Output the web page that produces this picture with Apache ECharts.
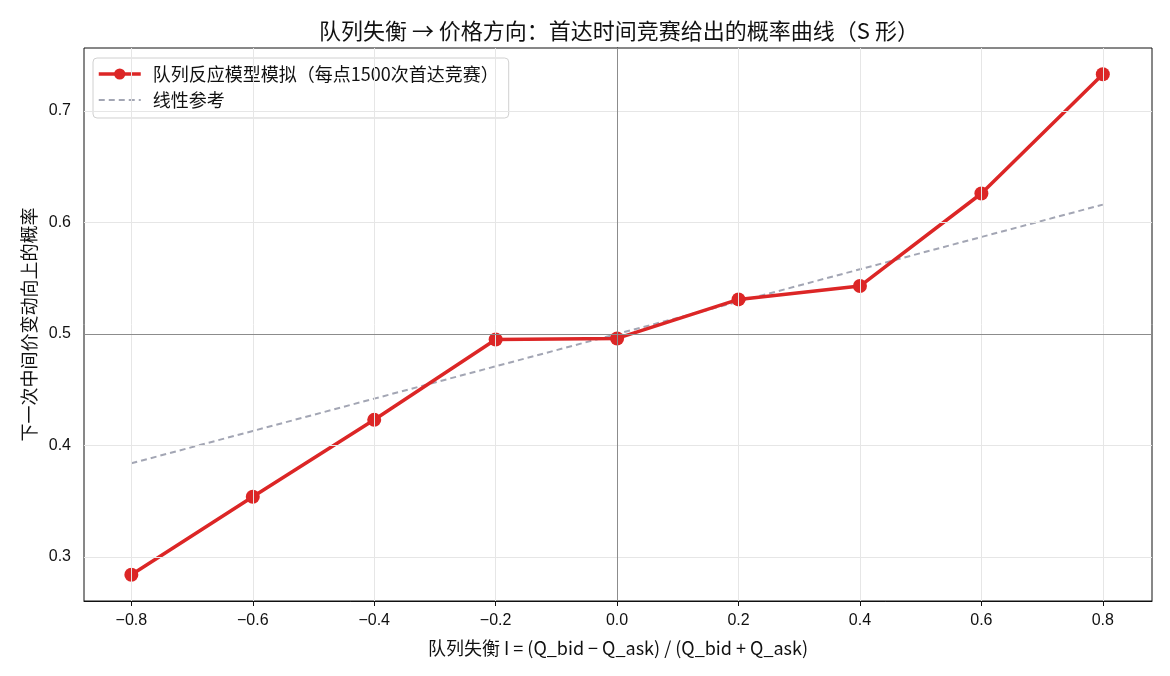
<!DOCTYPE html>
<html lang="zh">
<head>
    <meta charset="UTF-8">
    <title>队列失衡 → 价格方向</title>
    <script src="https://cdn.jsdelivr.net/npm/echarts@6.0.0/dist/echarts.min.js"></script>
</head>
<body style="margin:0">
<div id="chart" style="height: 676px; width: 1170px;"></div>
<script>
    // 队列失衡 I 的取值
    const imbalance = [-0.8, -0.6, -0.4, -0.2, 0.0, 0.2, 0.4, 0.6, 0.8];
    // 模拟得到的上涨概率
    const probSim = [0.284, 0.354, 0.423, 0.495, 0.496, 0.531, 0.543, 0.626, 0.733];
    // 线性参考
    const probLinear = [0.384, 0.413, 0.442, 0.471, 0.500, 0.529, 0.558, 0.587, 0.616];
    const xTicks = [-0.8, -0.6, -0.4, -0.2, 0.0, 0.2, 0.4, 0.6, 0.8];
    const yTicks = [0.3, 0.4, 0.5, 0.6, 0.7];

    const font = '"Noto Sans CJK SC", "Noto Sans", sans-serif';
    const tickFont = '"Liberation Sans", sans-serif';
    const chart = echarts.init(document.querySelector('#chart'));

    chart.setOption({
        animation: false,
        textStyle: { fontFamily: font },
        title: {
            text: '队列失衡 → 价格方向：首达时间竞赛给出的概率曲线（S 形）',
            left: 314,
            top: 15,
            textStyle: { fontSize: 22, fontWeight: 'normal', color: '#111', fontFamily: font }
        },
        grid: {
            left: 84, right: 18, top: 48, bottom: 75,
            show: true, borderColor: '#111', borderWidth: 1
        },
        legend: {
            left: 93, top: 58,
            orient: 'vertical',
            itemWidth: 42, itemHeight: 14, itemGap: 8,
            padding: [7, 10, 9, 4],
            borderColor: '#d0d0d0', borderWidth: 1, borderRadius: 4,
            backgroundColor: 'rgba(255,255,255,0.85)',
            textStyle: { fontSize: 18, color: '#111', fontFamily: font, padding: [0, 0, 0, 7] },
            data: [
                { name: '队列反应模型模拟（每点1500次首达竞赛）', lineStyle: { width: 3.5 } },
                { name: '线性参考', itemStyle: { opacity: 0 } }
            ]
        },
        xAxis: {
            type: 'value',
            min: -0.878, max: 0.881,
            name: '队列失衡 I = (Q_bid − Q_ask) / (Q_bid + Q_ask)',
            nameLocation: 'middle', nameGap: 38,
            nameTextStyle: { fontSize: 18, color: '#111' },
            axisLine: { onZero: false, lineStyle: { color: '#111' } },
            axisTick: { customValues: xTicks, length: 5, lineStyle: { color: '#111' } },
            axisLabel: {
                customValues: xTicks, fontSize: 16, color: '#111', margin: 12,
                fontFamily: tickFont,
                formatter: v => (v < 0 ? '−' : '') + Math.abs(v).toFixed(1)
            },
            splitLine: { show: false }
        },
        yAxis: {
            type: 'value',
            min: 0.2605, max: 0.7565,
            name: '下一次中间价变动向上的概率',
            nameLocation: 'middle', nameGap: 45,
            nameTextStyle: { fontSize: 18, color: '#111' },
            axisLine: { show: true, lineStyle: { color: '#111' } },
            axisTick: { customValues: yTicks, length: 5, lineStyle: { color: '#111' } },
            axisLabel: {
                customValues: yTicks, fontSize: 16, color: '#111', margin: 13,
                fontFamily: tickFont,
                formatter: v => v.toFixed(1)
            },
            splitLine: { show: false }
        },
        series: [
            {
                // 网格线
                type: 'line',
                data: [],
                silent: true,
                markLine: {
                    silent: true,
                    symbol: 'none',
                    label: { show: false },
                    lineStyle: { type: 'solid', color: '#e6e6e6', width: 1 },
                    data: xTicks.map(v => ({ xAxis: v }))
                        .concat(yTicks.map(v => ({ yAxis: v })))
                }
            },
            {
                // 零线
                type: 'line',
                data: [],
                silent: true,
                markLine: {
                    silent: true,
                    symbol: 'none',
                    label: { show: false },
                    lineStyle: { type: 'solid', color: '#8c8c8c', width: 1 },
                    data: [{ xAxis: 0 }, { yAxis: 0.5 }]
                }
            },
            {
                name: '线性参考',
                type: 'line',
                data: imbalance.map((x, i) => [x, probLinear[i]]),
                symbol: 'none',
                lineStyle: { color: '#a3a6b4', width: 2, type: [6, 4] },
                itemStyle: { color: '#a3a6b4' },
                z: 3
            },
            {
                name: '队列反应模型模拟（每点1500次首达竞赛）',
                type: 'line',
                data: imbalance.map((x, i) => [x, probSim[i]]),
                symbol: 'circle',
                symbolSize: 14,
                lineStyle: { color: '#dc2626', width: 3.5 },
                itemStyle: { color: '#dc2626', borderWidth: 0 },
                z: 4
            }
        ]
    });
</script>
</body>
</html>
